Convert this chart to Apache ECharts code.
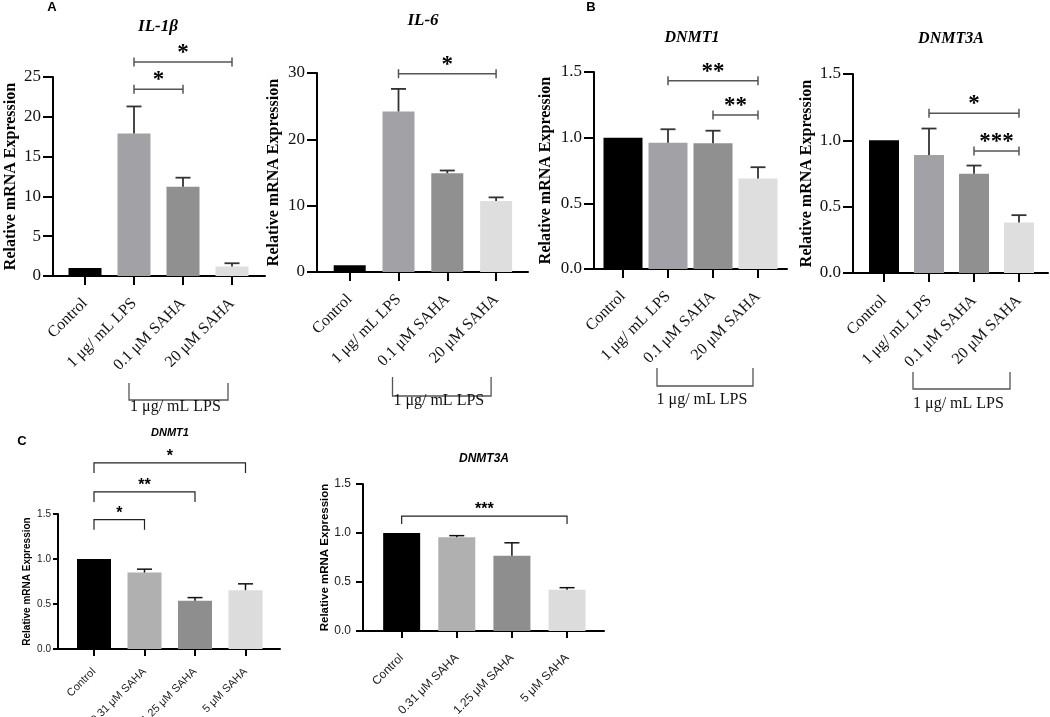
<!DOCTYPE html>
<html>
<head>
<meta charset="utf-8">
<script src="https://cdn.jsdelivr.net/npm/echarts@6/dist/echarts.min.js"></script>
<style>html,body{margin:0;padding:0;background:#fff}#c{width:1050px;height:717px}</style>
</head>
<body>
<div id="c"></div>
<script>
// ---------- DATA ----------
const catsLPS = ['Control', '1 μg/ mL LPS', '0.1 μM SAHA', '20 μM SAHA'];
const catsSAHA = ['Control', '0.31 μM SAHA', '1.25 μM SAHA', '5 μM SAHA'];
const lpsGroupRange = [1, 3];
const lpsGroupLabel = '1 μg/ mL LPS';
const yName = 'Relative mRNA Expression';

const il1bMean = [1.0, 17.9, 11.2, 1.2];
const il1bErr = [0, 3.4, 1.15, 0.4];
const il1bTicks = [0, 5, 10, 15, 20, 25];
const il1bSig = [[1, 2, 23.45, '*'], [1, 3, 26.9, '*']];

const il6Mean = [1.0, 24.2, 14.9, 10.7];
const il6Err = [0, 3.4, 0.4, 0.55];
const il6Ticks = [0, 10, 20, 30];
const il6Sig = [[1, 3, 29.9, '*']];

const dnmt1LpsMean = [1.0, 0.962, 0.957, 0.69];
const dnmt1LpsErr = [0, 0.102, 0.096, 0.085];
const dnmt1LpsTicks = [0, 0.5, 1.0, 1.5];
const dnmt1LpsSig = [[1, 3, 1.433, '**'], [2, 3, 1.172, '**']];

const dnmt3aLpsMean = [1.0, 0.889, 0.748, 0.38];
const dnmt3aLpsErr = [0, 0.2, 0.062, 0.056];
const dnmt3aLpsTicks = [0, 0.5, 1.0, 1.5];
const dnmt3aLpsSig = [[1, 3, 1.204, '*'], [2, 3, 0.919, '***']];

const dnmt1SahaMean = [1.0, 0.85, 0.535, 0.654];
const dnmt1SahaErr = [0, 0.037, 0.036, 0.07];
const dnmt1SahaTicks = [0, 0.5, 1.0, 1.5];
const dnmt1SahaSig = [[0, 1, 1.437, '*'], [0, 2, 1.745, '**'], [0, 3, 2.068, '*']];

const dnmt3aSahaMean = [1.0, 0.956, 0.768, 0.422];
const dnmt3aSahaErr = [0, 0.017, 0.132, 0.02];
const dnmt3aSahaTicks = [0, 0.5, 1.0, 1.5];
const dnmt3aSahaSig = [[0, 3, 1.173, '***']];

// ---------- STYLES / LAYOUT ----------
const colorsLPS = ['#000000', '#a2a2a6', '#909090', '#dedede'];
const colorsSAHA = ['#000000', '#b0b0b0', '#8e8e8e', '#dcdcdc'];
const SERIF = 'Liberation Serif';
const SANS = 'Liberation Sans';

const panels = [
  {name: 'IL-1β', cats: catsLPS, mean: il1bMean, err: il1bErr, ticks: il1bTicks, sig: il1bSig, colors: colorsLPS, kind: 'AB',
   outer: {left: 53, top: 77, width: 212, height: 199}, inner: {left: 60.5, width: 196}, barWidth: 33, dec: 0,
   nameGap: 34, tpos: [158, 27, 17], lps: {dx1: -5, dx2: -4, top: 107, bottom: 124, textY: 131}},
  {name: 'IL-6', cats: catsLPS, mean: il6Mean, err: il6Err, ticks: il6Ticks, sig: il6Sig, colors: colorsLPS, kind: 'AB',
   outer: {left: 317, top: 73, width: 211, height: 199}, inner: {left: 325.3, width: 195.2}, barWidth: 32, dec: 0,
   nameGap: 35.5, tpos: [423, 21, 17], lps: {dx1: -6, dx2: -5, top: 105, bottom: 124, textY: 129}},
  {name: 'DNMT1', cats: catsLPS, mean: dnmt1LpsMean, err: dnmt1LpsErr, ticks: dnmt1LpsTicks, sig: dnmt1LpsSig, colors: colorsLPS, kind: 'AB',
   outer: {left: 594, top: 72, width: 193, height: 197}, inner: {left: 600.5, width: 180}, barWidth: 39, dec: 1,
   nameGap: 40, tpos: [692, 38, 16], lps: {dx1: -11, dx2: -5, top: 99, bottom: 117, textY: 131}},
  {name: 'DNMT3A', cats: catsLPS, mean: dnmt3aLpsMean, err: dnmt3aLpsErr, ticks: dnmt3aLpsTicks, sig: dnmt3aLpsSig, colors: colorsLPS, kind: 'AB',
   outer: {left: 853, top: 74, width: 195, height: 199}, inner: {left: 861.5, width: 180}, barWidth: 30, dec: 1,
   nameGap: 38, tpos: [951, 39, 16], lps: {dx1: -16, dx2: -9, top: 99, bottom: 116, textY: 131}},
  {name: 'DNMT1', cats: catsSAHA, mean: dnmt1SahaMean, err: dnmt1SahaErr, ticks: dnmt1SahaTicks, sig: dnmt1SahaSig, colors: colorsSAHA, kind: 'C',
   outer: {left: 58, top: 514, width: 222, height: 135}, inner: {left: 68.75, width: 202}, barWidth: 34, dec: 1,
   nameGap: 26, tpos: [170, 433, 11], yTick: 5, yMargin: 7, ySize: 10, nameSize: 10, xSize: 11, xMargin: 21, drop: 10},
  {name: 'DNMT3A', cats: catsSAHA, mean: dnmt3aSahaMean, err: dnmt3aSahaErr, ticks: dnmt3aSahaTicks, sig: dnmt3aSahaSig, colors: colorsSAHA, kind: 'C',
   outer: {left: 363, top: 484, width: 241, height: 147}, inner: {left: 374.1, width: 220.5}, barWidth: 37, dec: 1,
   nameGap: 26, tpos: [484, 459, 12], yTick: 7, yMargin: 12, ySize: 12, nameSize: 11.5, xSize: 12, xMargin: 25, drop: 8}
];

const grids = [], xAxes = [], yAxes = [], series = [], titles = [];

panels.forEach((p, k) => {
  const isAB = p.kind === 'AB';
  const font = isAB ? SERIF : SANS;
  const txtColor = isAB ? '#111' : '#222';
  const gO = 2 * k, gI = 2 * k + 1;
  const min = p.ticks[0], max = p.ticks[p.ticks.length - 1], interval = p.ticks[1] - p.ticks[0];
  grids.push({left: p.outer.left, top: p.outer.top, width: p.outer.width, height: p.outer.height, outerBoundsMode: 'none', containLabel: false});
  grids.push({left: p.inner.left, top: p.outer.top, width: p.inner.width, height: p.outer.height, outerBoundsMode: 'none', containLabel: false});

  xAxes.push({gridIndex: gO, type: 'value', min: 0, max: 1, show: true,
    axisLine: {show: true, onZero: false, lineStyle: {color: '#000', width: 2}},
    axisTick: {show: false}, axisLabel: {show: false}, splitLine: {show: false}});
  xAxes.push({gridIndex: gI, type: 'category', data: p.cats,
    axisLine: {show: false}, splitLine: {show: false},
    axisTick: {show: true, alignWithLabel: true, length: isAB ? 9 : 7, lineStyle: {color: '#000', width: 2}},
    axisLabel: {rotate: 45, interval: 0, margin: isAB ? 25 : p.xMargin, color: txtColor, fontFamily: font, fontSize: isAB ? 16 : p.xSize}});

  yAxes.push({gridIndex: gO, type: 'value', min: min, max: max, interval: interval,
    axisLine: {show: true, lineStyle: {color: '#000', width: 2}},
    axisTick: {show: true, length: isAB ? 10 : p.yTick, lineStyle: {color: '#000', width: 2}},
    splitLine: {show: false},
    axisLabel: {margin: isAB ? 12 : p.yMargin, color: txtColor, fontFamily: font, fontSize: isAB ? 17 : p.ySize,
      formatter: v => v.toFixed(p.dec)},
    name: yName, nameLocation: 'middle', nameGap: p.nameGap,
    nameTextStyle: {fontFamily: font, fontWeight: 'bold', fontSize: isAB ? 16 : p.nameSize, color: '#000'}});
  yAxes.push({gridIndex: gI, type: 'value', min: min, max: max, show: false});

  titles.push({text: p.name, left: p.tpos[0], top: p.tpos[1], padding: 0,
    textAlign: 'center', textVerticalAlign: 'middle',
    textStyle: {fontFamily: font, fontStyle: 'italic', fontWeight: 'bold', fontSize: p.tpos[2], color: '#000'}});

  // bars
  series.push({type: 'bar', xAxisIndex: gI, yAxisIndex: gI, barWidth: p.barWidth, z: 2,
    data: p.mean.map((v, i) => ({value: v, itemStyle: {color: p.colors[i]}}))});

  // error bars (upper only)
  series.push({type: 'custom', xAxisIndex: gI, yAxisIndex: gI, z: 3, clip: false,
    data: p.mean.map((v, i) => [i, v, p.err[i]]),
    encode: {x: 0, y: 1},
    renderItem: (params, api) => {
      const e = api.value(2);
      if (!e) return null;
      const base = api.coord([api.value(0), api.value(1)]);
      const top = api.coord([api.value(0), api.value(1) + e]);
      const st = {stroke: isAB ? '#333' : '#111', lineWidth: isAB ? 1.8 : 1.5};
      return {type: 'group', children: [
        {type: 'line', shape: {x1: base[0], y1: base[1], x2: top[0], y2: top[1]}, style: st},
        {type: 'line', shape: {x1: top[0] - 7.5, y1: top[1], x2: top[0] + 7.5, y2: top[1]}, style: st}
      ]};
    }});

  // significance brackets
  series.push({type: 'custom', xAxisIndex: gI, yAxisIndex: gI, z: 4, clip: false,
    data: p.sig.map(s => [s[0], s[2], s[1]]),
    encode: {x: 0, y: 1},
    renderItem: (params, api) => {
      const s = p.sig[params.dataIndex];
      const a = api.coord([api.value(0), api.value(1)]);
      const b = api.coord([api.value(2), api.value(1)]);
      const y = a[1];
      const ch = [];
      if (isAB) {
        const st = {stroke: '#555', lineWidth: 1.5};
        ch.push({type: 'line', shape: {x1: a[0], y1: y, x2: b[0], y2: y}, style: st});
        ch.push({type: 'line', shape: {x1: a[0], y1: y - 4.5, x2: a[0], y2: y + 4.5}, style: st});
        ch.push({type: 'line', shape: {x1: b[0], y1: y - 4.5, x2: b[0], y2: y + 4.5}, style: st});
        ch.push({type: 'text', x: (a[0] + b[0]) / 2, y: y - 9,
          style: {text: s[3], fill: '#000', font: 'bold 23px "' + SERIF + '"', align: 'center', verticalAlign: 'middle',
                  textAlign: 'center', textVerticalAlign: 'middle'}});
      } else {
        ch.push({type: 'polyline', shape: {points: [[a[0], y + p.drop], [a[0], y], [b[0], y], [b[0], y + p.drop]]},
          style: {stroke: '#222', lineWidth: 1.2, fill: null}});
        ch.push({type: 'text', x: (a[0] + b[0]) / 2, y: y - 6,
          style: {text: s[3], fill: '#000', font: 'bold 16px "' + SANS + '"', align: 'center', verticalAlign: 'middle',
                  textAlign: 'center', textVerticalAlign: 'middle'}});
      }
      return {type: 'group', children: ch};
    }});

  // "1 μg/ mL LPS" group bracket under the axis
  if (p.lps) {
    series.push({type: 'custom', xAxisIndex: gI, yAxisIndex: gI, z: 4, clip: false,
      data: [[lpsGroupRange[0], 0, lpsGroupRange[1]]],
      encode: {x: 0, y: 1},
      renderItem: (params, api) => {
        const a = api.coord([api.value(0), api.value(1)]);
        const b = api.coord([api.value(2), api.value(1)]);
        const x1 = a[0] + p.lps.dx1, x2 = b[0] + p.lps.dx2, y0 = a[1];
        return {type: 'group', children: [
          {type: 'polyline', shape: {points: [[x1, y0 + p.lps.top], [x1, y0 + p.lps.bottom], [x2, y0 + p.lps.bottom], [x2, y0 + p.lps.top]]},
           style: {stroke: '#555', lineWidth: 1.3, fill: null}},
          {type: 'text', x: (x1 + x2) / 2 - 3, y: y0 + p.lps.textY,
           style: {text: lpsGroupLabel, fill: '#111', font: '16px "' + SERIF + '"', align: 'center', verticalAlign: 'middle',
                   textAlign: 'center', textVerticalAlign: 'middle'}}
        ]};
      }});
  }
});

const chart = echarts.init(document.getElementById('c'), null, {renderer: 'canvas'});
chart.setOption({
  backgroundColor: '#ffffff',
  animation: false,
  title: titles,
  grid: grids,
  xAxis: xAxes,
  yAxis: yAxes,
  series: series,
  graphic: [
    {type: 'text', x: 52, y: 7, style: {text: 'A', font: 'bold 13px "Liberation Sans"', fill: '#000', align: 'center', verticalAlign: 'middle', textAlign: 'center', textVerticalAlign: 'middle'}},
    {type: 'text', x: 591, y: 7, style: {text: 'B', font: 'bold 13px "Liberation Sans"', fill: '#000', align: 'center', verticalAlign: 'middle', textAlign: 'center', textVerticalAlign: 'middle'}},
    {type: 'text', x: 22, y: 441, style: {text: 'C', font: 'bold 13px "Liberation Sans"', fill: '#000', align: 'center', verticalAlign: 'middle', textAlign: 'center', textVerticalAlign: 'middle'}}
  ]
});
</script>
</body>
</html>
